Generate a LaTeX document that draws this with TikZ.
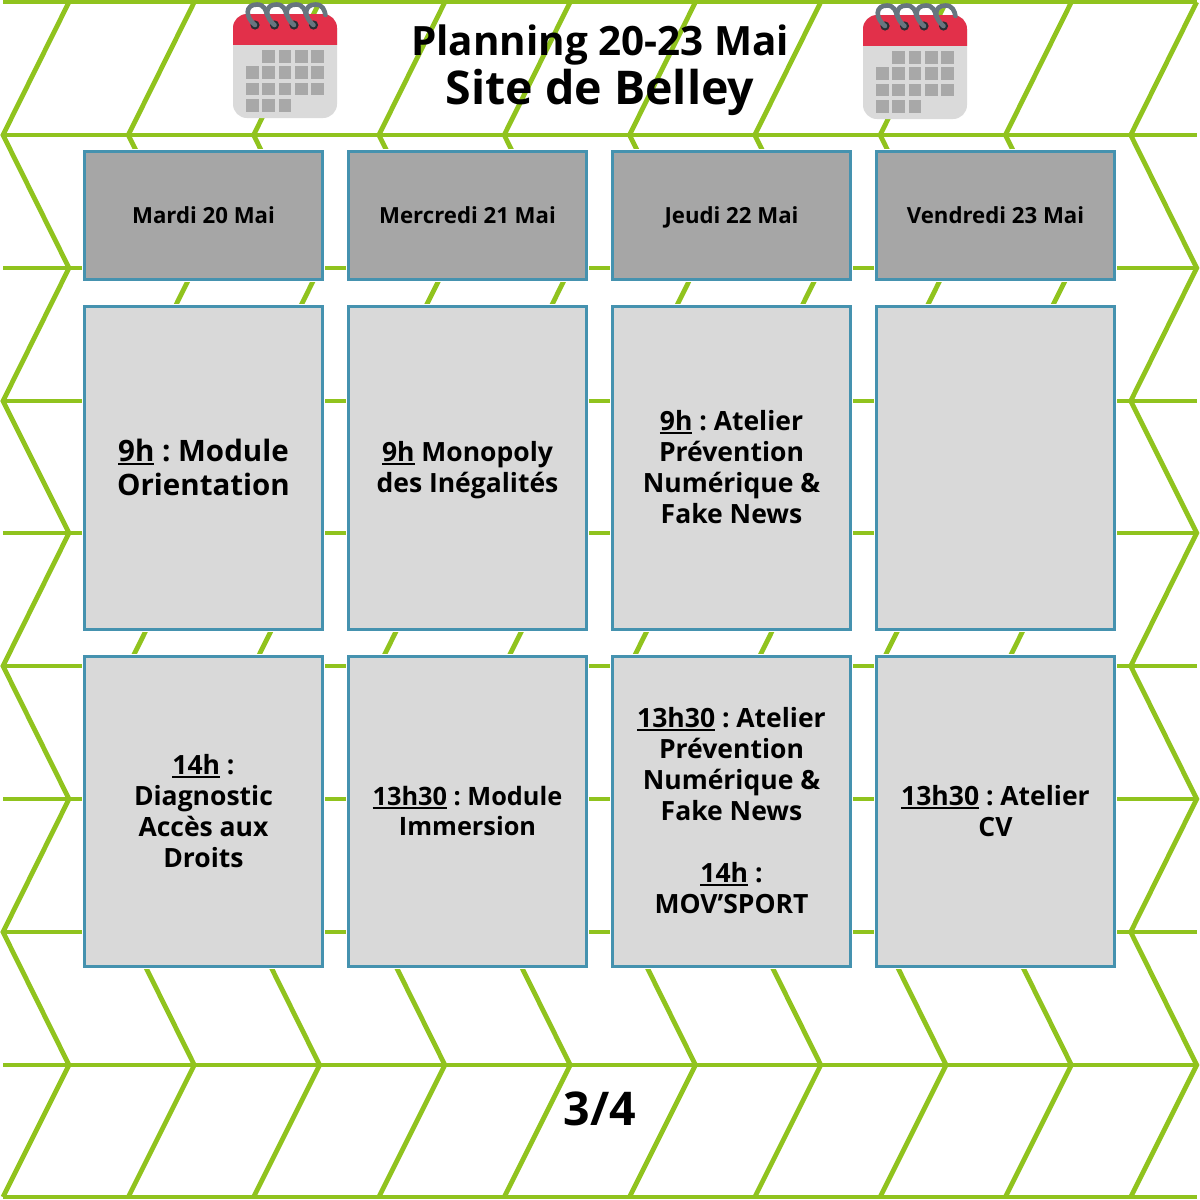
\documentclass[tikz,border=0pt]{standalone}
\usepackage{fontspec}
\setmainfont{Open Sans}[BoldFont={Open Sans Bold}]
\definecolor{zgreen}{HTML}{90C31E}
\definecolor{bblue}{HTML}{4592AF}
\definecolor{hgray}{HTML}{A6A6A6}
\definecolor{cgray}{HTML}{D9D9D9}
\definecolor{calred}{HTML}{E2304A}
\definecolor{calgray}{HTML}{DADADA}
\definecolor{calcell}{HTML}{A8A8A8}
\definecolor{calring}{HTML}{67757F}
\definecolor{caldark}{HTML}{292F33}
\tikzset{
  zig/.style={draw=zgreen,line width=4.8pt,line join=miter,miter limit=10},
  boxbase/.style={preaction={draw=white,line width=5.5pt},draw=bblue,line width=3.5pt,inner sep=0pt,minimum width=238pt,align=flush center,text width=225pt},
  daybox/.style={boxbase,fill=hgray,minimum height=128pt,font=\bfseries\fontsize{22.2}{26}\selectfont},
  cellbox/.style={boxbase,fill=cgray},
  small/.style={font=\bfseries\fontsize{26.5}{31}\selectfont},
  smaller/.style={font=\bfseries\fontsize{25.3}{30}\selectfont},
  big/.style={font=\bfseries\fontsize{29.5}{34}\selectfont},
  title/.style={inner sep=0pt}
}
\newcommand{\ulx}[1]{\leavevmode\sbox0{#1}\rlap{\rule[-.15em]{\wd0}{.085em}}\box0\relax}
\newcommand{\fixh}{\rule[-.16em]{0pt}{1em}}
\newcommand{\calicon}[2]{%
  \begin{scope}[shift={(#1,#2)}]
    \fill[calgray,rounded corners=14pt] (0,0) rectangle (104,104);
    \begin{scope}
      \clip (0,0) rectangle (104,30);
      \fill[calred,rounded corners=14pt] (0,0) rectangle (104,70);
    \end{scope}
    \foreach \cx/\cy in {
      1/0,2/0,3/0,4/0,
      0/1,1/1,2/1,3/1,4/1,
      0/2,1/2,2/2,3/2,4/2,
      0/3,1/3,2/3}{
      \fill[calcell] ({13+16.3*\cx},{36+16.3*\cy}) rectangle +(12.8,12.8);
    }
    \foreach \rx in {22,41.5,61,80.5}{
      \fill[caldark] (\rx,11) circle (4.6pt);
      \draw[calring,line width=4.6pt,line cap=round]
        (\rx,11) .. controls (\rx-10,3) and (\rx-10,-9.5) .. (\rx+2,-9.5)
        .. controls (\rx+9,-9.5) and (\rx+11,-4) .. (\rx+12,1);
    }
  \end{scope}}
\begin{document}
\frenchspacing
\begin{tikzpicture}[x=1pt,y=-1pt]
\useasboundingbox (0,0) rectangle (1200,1200);
\fill[white] (0,0) rectangle (1200,1200);
% chevron background
\foreach \yy in {2,135,268,401,533,666,799,932,1065,1197}{
  \draw[zig] (3,\yy) -- (1197,\yy);
}
\foreach \i in {0,...,9}{
  \pgfmathsetmacro{\xl}{3+125.3*\i}
  \pgfmathsetmacro{\xh}{69+125.3*\i}
  \draw[zig] (\xh,2) -- (\xl,135) -- (\xh,268) -- (\xl,401) -- (\xh,533) -- (\xl,666)
     -- (\xh,799) -- (\xl,932) -- (\xh,1065) -- (\xl,1197);
}
% title
\node[title,font=\bfseries\fontsize{40.4}{46}\selectfont] (t1) at (600,45) {Planning 20-23 Mai};
\node[title,font=\bfseries\fontsize{46.5}{52}\selectfont] (t2) at (600,92) {Site de Belley};
\node[title,font=\bfseries\fontsize{46.5}{52}\selectfont] (pg) at (600,1109) {3/4};
\calicon{233}{14}
\calicon{863}{15}
% headers
\node[daybox] (d1) at (203.5,215.5) {\fixh\smash{Mardi 20 Mai}};
\node[daybox] (d2) at (467.5,215.5) {\fixh\smash{Mercredi 21 Mai}};
\node[daybox] (d3) at (731.5,215.5) {\fixh\smash{Jeudi 22 Mai}};
\node[daybox] (d4) at (995.5,215.5) {\fixh\smash{Vendredi 23 Mai}};
% morning
\node[cellbox,minimum height=323pt,big] (m1) at (203.5,468) {\fixh\ulx{9h} : Module\\\fixh\smash{Orientation}};
\node[cellbox,minimum height=323pt,small] (m2) at (467.5,468) {\fixh\ulx{9h} Monopoly\\\fixh\smash{des Inégalités}};
\node[cellbox,minimum height=323pt,small] (m3) at (731.5,468) {\fixh\ulx{9h} : Atelier\\Prévention\\Numérique \&\\\fixh\smash{Fake News}};
\node[cellbox,minimum height=323pt] (m4) at (995.5,468) {};
% afternoon
\node[cellbox,minimum height=310pt,small] (a1) at (203.5,811.5) {\fixh\ulx{14h} :\\Diagnostic\\Accès aux\\\fixh\smash{Droits}};
\node[cellbox,minimum height=310pt,smaller] (a2) at (467.5,811.5) {\fixh\ulx{13h30} : Module\\\fixh\smash{Immersion}};
\node[cellbox,minimum height=310pt,small] (a3) at (731.5,811.5) {\fixh\ulx{13h30} : Atelier\\Prévention\\Numérique \&\\Fake News\\[31pt]\ulx{14h} :\\\fixh\smash{MOV’SPORT}};
\node[cellbox,minimum height=310pt,small] (a4) at (995.5,811.5) {\fixh\ulx{13h30} : Atelier\\\fixh\smash{CV}};
\end{tikzpicture}
\end{document}
